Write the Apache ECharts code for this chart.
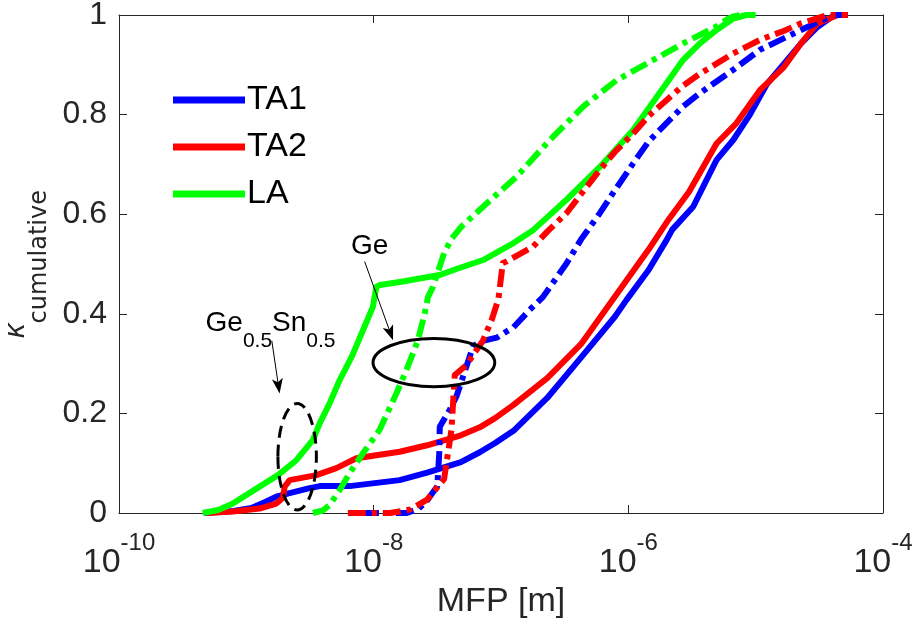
<!DOCTYPE html>
<html><head><meta charset="utf-8">
<script src="https://cdn.jsdelivr.net/npm/echarts@6/dist/echarts.min.js"></script>
<style>html,body{margin:0;padding:0;background:#fff}#c{width:914px;height:624px}</style>
</head><body><div id="c"></div>
<script>
// x values are log10(MFP [m]); y values are kappa_cumulative
const xTickExponents = [-10, -8, -6, -4];
const yTicks = [0, 0.2, 0.4, 0.6, 0.8, 1];
const legendNames = ['TA1', 'TA2', 'LA'];

// Ge0.5Sn0.5 (solid lines)
const TA1_GeSn = [[-9.33,0],[-9.1,0.004],[-8.96,0.01],[-8.843,0.023],[-8.765,0.033],[-8.66,0.04],[-8.503,0.05],[-8.424,0.054],[-8.189,0.054],[-7.796,0.066],[-7.58,0.081],[-7.315,0.102],[-7.167,0.122],[-7.049,0.14],[-6.902,0.165],[-6.637,0.231],[-6.372,0.312],[-6.106,0.394],[-6.014,0.428],[-5.841,0.488],[-5.7,0.548],[-5.655,0.569],[-5.491,0.615],[-5.307,0.709],[-5.176,0.749],[-5.045,0.8],[-4.913,0.861],[-4.78,0.901],[-4.647,0.942],[-4.515,0.976],[-4.382,1.0],[-4.3,1.0]];
const TA2_GeSn = [[-9.31,0],[-9.106,0.003],[-8.896,0.009],[-8.765,0.019],[-8.713,0.03],[-8.699,0.053],[-8.66,0.066],[-8.45,0.076],[-8.293,0.09],[-8.136,0.11],[-8.057,0.113],[-7.796,0.123],[-7.58,0.136],[-7.315,0.156],[-7.167,0.172],[-7.049,0.19],[-6.902,0.217],[-6.637,0.271],[-6.372,0.339],[-6.106,0.434],[-5.841,0.529],[-5.682,0.59],[-5.569,0.629],[-5.523,0.645],[-5.307,0.742],[-5.15,0.783],[-4.967,0.849],[-4.78,0.895],[-4.647,0.942],[-4.515,0.983],[-4.356,1.0],[-4.276,1.0]];
const LA_GeSn = [[-9.343,0],[-9.22,0.006],[-9.106,0.019],[-8.896,0.053],[-8.752,0.076],[-8.607,0.106],[-8.477,0.147],[-8.424,0.18],[-8.346,0.22],[-8.267,0.267],[-8.17,0.315],[-8.084,0.367],[-8.006,0.414],[-7.979,0.454],[-7.95,0.458],[-7.796,0.464],[-7.481,0.478],[-7.35,0.49],[-7.141,0.508],[-6.902,0.542],[-6.748,0.568],[-6.486,0.629],[-6.224,0.695],[-5.962,0.769],[-5.7,0.863],[-5.569,0.91],[-5.438,0.943],[-5.307,0.97],[-5.176,0.993],[-5.072,1.0],[-5.0,1.0]];

// Ge (dash-dot lines)
const TA1_Ge = [[-8.1,0],[-7.74,0],[-7.65,0.008],[-7.58,0.025],[-7.5,0.054],[-7.485,0.12],[-7.481,0.173],[-7.403,0.207],[-7.35,0.234],[-7.22,0.334],[-7.167,0.344],[-7.034,0.352],[-6.902,0.373],[-6.774,0.408],[-6.67,0.434],[-6.486,0.501],[-6.372,0.549],[-6.224,0.602],[-6.106,0.648],[-5.962,0.702],[-5.841,0.746],[-5.7,0.783],[-5.576,0.815],[-5.438,0.843],[-5.176,0.89],[-4.967,0.93],[-4.78,0.953],[-4.594,0.976],[-4.382,1.0],[-4.276,1.0]];
const TA2_Ge = [[-8.203,0],[-7.871,0],[-7.712,0.007],[-7.58,0.027],[-7.447,0.068],[-7.389,0.167],[-7.363,0.277],[-7.272,0.297],[-7.193,0.327],[-7.142,0.346],[-7.07,0.39],[-7.02,0.43],[-6.986,0.502],[-6.957,0.505],[-6.748,0.535],[-6.637,0.565],[-6.486,0.602],[-6.372,0.64],[-6.224,0.689],[-6.106,0.725],[-5.962,0.762],[-5.841,0.797],[-5.7,0.829],[-5.576,0.857],[-5.438,0.882],[-5.176,0.923],[-4.967,0.95],[-4.78,0.968],[-4.647,0.983],[-4.435,1.0],[-4.276,1.0]];
const LA_Ge = [[-8.477,0],[-8.4,0.005],[-8.346,0.016],[-8.267,0.046],[-8.189,0.08],[-8.084,0.12],[-7.953,0.167],[-7.822,0.24],[-7.743,0.287],[-7.652,0.347],[-7.6,0.4],[-7.573,0.434],[-7.534,0.454],[-7.447,0.522],[-7.39,0.55],[-7.311,0.575],[-7.141,0.615],[-6.879,0.675],[-6.617,0.749],[-6.355,0.816],[-6.093,0.869],[-5.831,0.906],[-5.569,0.943],[-5.307,0.977],[-5.22,0.992],[-5.176,0.997],[-5.12,1.0]];

// annotations (data coordinates: log10 x, kappa)
const geEllipse = {c: [-7.527, 0.302], rx: 0.478, ry: 0.0486};
const geSnEllipse = {c: [-8.601, 0.113], rx: 0.151, ry: 0.107};
const geArrow = {from: [-8.071, 0.505], to: [-7.848, 0.347]};
const geSnArrow = {from: [-8.80, 0.346], to: [-8.739, 0.240]};
const geLabel = {at: [-8.031, 0.535], text: 'Ge'};
const geSnLabel = {at: [-8.81, 0.367]};

const FONT = '"Liberation Sans", Arial, Helvetica, sans-serif';
const TXT = '#262626';
const AX = '#262626';
const COLORS = {TA1: '#0000ff', TA2: '#ff0000', LA: '#00ff00'};
const DASH = [18, 6, 5, 6];

const toPts = arr => arr.map(p => [Math.pow(10, p[0]), p[1]]);
function lineSeries(name, data, color, dashed, z) {
  return {
    type: 'line', name: name, data: toPts(data), showSymbol: false, symbol: 'none',
    clip: false, animation: false, z: z, emphasis: {disabled: true},
    itemStyle: {color: color},
    lineStyle: {color: color, width: 6, type: dashed ? DASH : 'solid', cap: 'butt', join: 'round'}
  };
}

const chart = echarts.init(document.getElementById('c'), null, {renderer: 'canvas'});
const xAxisBase = {type: 'log', logBase: 10, min: Math.pow(10, xTickExponents[0]), max: Math.pow(10, xTickExponents[xTickExponents.length-1]), interval: 2, splitLine: {show: false}, minorTick: {show: false}, minorSplitLine: {show: false}};
const yAxisBase = {type: 'value', min: yTicks[0], max: yTicks[yTicks.length-1], interval: 0.2, splitLine: {show: false}};

chart.setOption({
  animation: false,
  backgroundColor: '#fff',
  grid: {left: 119, top: 15, width: 764, height: 498, containLabel: false, outerBoundsMode: 'none'},
  legend: {
    data: legendNames, orient: 'vertical', left: 173, top: 80, padding: 0,
    itemWidth: 72, itemHeight: 7, itemGap: 7, icon: 'rect',
    textStyle: {fontSize: 34, fontFamily: FONT, color: '#000', lineHeight: 40, padding: [0, 0, 0, -3]},
    selectedMode: false
  },
  xAxis: [
    Object.assign({}, xAxisBase, {
      position: 'bottom',
      axisLine: {show: true, onZero: false, lineStyle: {color: AX, width: 1}},
      axisTick: {show: true, inside: true, length: 8, lineStyle: {color: AX, width: 1}},
      axisLabel: {
        margin: 18,
        formatter: v => '{b|10}{s|' + Math.round(Math.log10(v)) + '}',
        rich: {
          b: {fontSize: 34, fontFamily: FONT, color: TXT, padding: [15, 0, 0, 0], verticalAlign: 'bottom'},
          s: {fontSize: 24, fontFamily: FONT, color: TXT, verticalAlign: 'top'}
        }
      },
      name: 'MFP [m]', nameLocation: 'middle', nameGap: 72,
      nameTextStyle: {fontSize: 34, fontFamily: FONT, color: TXT}
    }),
    Object.assign({}, xAxisBase, {
      position: 'top',
      axisLine: {show: true, onZero: false, lineStyle: {color: AX, width: 1}},
      axisTick: {show: true, inside: true, length: 8, lineStyle: {color: AX, width: 1}},
      axisLabel: {show: false}
    })
  ],
  yAxis: [
    Object.assign({}, yAxisBase, {
      position: 'left',
      axisLine: {show: true, onZero: false, lineStyle: {color: AX, width: 1}},
      axisTick: {show: true, inside: true, length: 8, lineStyle: {color: AX, width: 1}},
      axisLabel: {fontSize: 32, fontFamily: FONT, color: TXT, margin: 12},
      name: '{k|κ}{s|cumulative}', nameLocation: 'middle', nameRotate: 90, nameGap: 66,
      nameTextStyle: {
        rich: {
          k: {fontSize: 29, fontStyle: 'italic', fontFamily: FONT, color: TXT, padding: [0, 0, 16, 0]},
          s: {fontSize: 24, fontFamily: '"DejaVu Sans", sans-serif', color: TXT, padding: [32, 0, 0, 0]}
        }
      }
    }),
    Object.assign({}, yAxisBase, {
      position: 'right',
      axisLine: {show: true, onZero: false, lineStyle: {color: AX, width: 1}},
      axisTick: {show: true, inside: true, length: 8, lineStyle: {color: AX, width: 1}},
      axisLabel: {show: false}
    })
  ],
  series: [
    lineSeries('TA1', TA1_GeSn, COLORS.TA1, false, 2),
    lineSeries('TA2', TA2_GeSn, COLORS.TA2, false, 3),
    lineSeries('LA', LA_GeSn, COLORS.LA, false, 4),
    lineSeries('TA1 (Ge)', TA1_Ge, COLORS.TA1, true, 5),
    lineSeries('TA2 (Ge)', TA2_Ge, COLORS.TA2, true, 5),
    lineSeries('LA (Ge)', LA_Ge, COLORS.LA, true, 6)
  ]
});

function px(p) { return chart.convertToPixel({xAxisIndex: 0, yAxisIndex: 0}, [Math.pow(10, p[0]), p[1]]); }
function ellipseEl(e, dashed) {
  const c = px(e.c);
  const rx = px([e.c[0] + e.rx, e.c[1]])[0] - c[0];
  const ry = c[1] - px([e.c[0], e.c[1] + e.ry])[1];
  return {type: 'ellipse', z: 100, shape: {cx: c[0], cy: c[1], rx: rx, ry: ry},
    style: {fill: null, stroke: '#000', lineWidth: 3, lineDash: dashed ? [12, 7] : null}};
}
function arrowEls(a) {
  const p0 = px(a.from), p1 = px(a.to);
  const dx = p1[0]-p0[0], dy = p1[1]-p0[1], L = Math.hypot(dx, dy);
  const ux = dx/L, uy = dy/L, nx = -uy, ny = ux;
  const head = 15, half = 5.5;
  const bx = p1[0]-ux*head, by = p1[1]-uy*head;
  const notch = [p1[0]-ux*head*0.75, p1[1]-uy*head*0.75];
  return [
    {type: 'line', z: 100, shape: {x1: p0[0], y1: p0[1], x2: notch[0], y2: notch[1]}, style: {stroke: '#000', lineWidth: 1}},
    {type: 'polygon', z: 100, shape: {points: [[p1[0], p1[1]], [bx+nx*half, by+ny*half], notch, [bx-nx*half, by-ny*half]]}, style: {fill: '#000'}}
  ];
}
const gl = px(geLabel.at), gsl = px(geSnLabel.at);
chart.setOption({
  graphic: [
    ellipseEl(geEllipse, false),
    ellipseEl(geSnEllipse, true),
    ...arrowEls(geArrow),
    ...arrowEls(geSnArrow),
    {type: 'text', z: 100, x: gl[0], y: gl[1], style: {text: geLabel.text, fontSize: 28, fontFamily: FONT, fill: '#000', align: 'center', verticalAlign: 'middle'}},
    {type: 'text', z: 100, x: gsl[0], y: gsl[1], style: {
      text: '{a|Ge}{s|0.5}{a|Sn}{s|0.5}', align: 'center', verticalAlign: 'middle',
      rich: {
        a: {fontSize: 28, fontFamily: FONT, fill: '#000', color: '#000', verticalAlign: 'top'},
        s: {fontSize: 21, fontFamily: FONT, fill: '#000', color: '#000', padding: [21, 0, 0, 0], verticalAlign: 'bottom'}
      }
    }}
  ]
});
</script></body></html>
